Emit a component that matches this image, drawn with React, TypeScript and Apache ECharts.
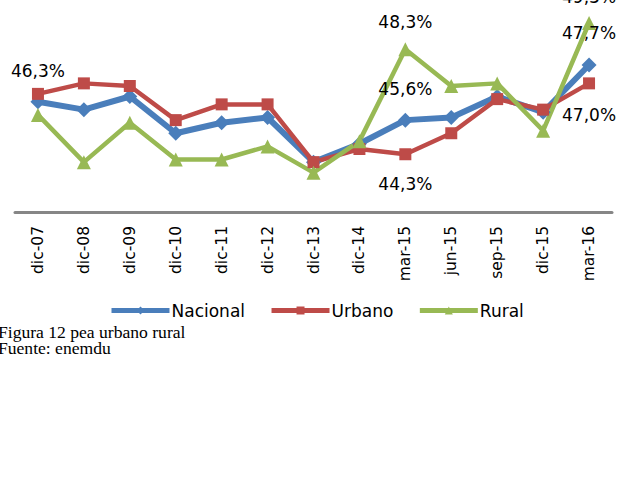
import React, { useEffect, useRef } from "react";
import * as echarts from "echarts";

const categories = ["dic-07", "dic-08", "dic-09", "dic-10", "dic-11", "dic-12", "dic-13", "dic-14", "mar-15", "jun-15", "sep-15", "dic-15", "mar-16"];
const nacional = [46.3, 46.0, 46.5, 45.1, 45.5, 45.7, 44.0, 44.7, 45.6, 45.7, 46.5, 45.9, 47.7];
const urbano = [46.6, 47.0, 46.9, 45.6, 46.2, 46.2, 44.0, 44.5, 44.3, 45.1, 46.4, 46.0, 47.0];
const rural = [45.8, 44.0, 45.5, 44.1, 44.1, 44.6, 43.6, 44.8, 48.3, 46.9, 47.0, 45.2, 49.3];
const seriesNames = ["Nacional", "Urbano", "Rural"];
const captionLines = ["Figura 12 pea urbano rural", "Fuente: enemdu"];

// points that carry a data label -> vertical label offset (px) from the point
const nacionalLabels: Record<number, number> = { 0: -31, 8: -31, 12: -32 };
const urbanoLabels: Record<number, number> = { 8: 30, 12: 32 };
const ruralLabels: Record<number, number> = { 8: -27, 12: -26 };

const fmt = (v: number) => v.toFixed(1).replace(".", ",") + "%";

const withLabels = (vals: number[], labels: Record<number, number>) =>
  vals.map((v, i) =>
    labels[i] !== undefined
      ? {
          value: v,
          label: {
            show: true,
            position: "inside",
            offset: [0, labels[i]],
            formatter: (p: any) => fmt(p.value),
            fontFamily: "DejaVu Sans",
            fontSize: 17,
            color: "#000",
            textBorderWidth: 0,
          },
        }
      : v
  );

export default function App() {
  const ref = useRef<HTMLDivElement>(null);
  useEffect(() => {
    if (!ref.current) return;
    const chart = echarts.init(ref.current, undefined, { renderer: "svg" });
    chart.setOption({
      animation: false,
      backgroundColor: "#fff",
      grid: { left: 15, right: 11, top: 2, height: 210 },
      xAxis: {
        type: "category",
        data: categories,
        boundaryGap: true,
        axisTick: { show: false },
        axisLine: { lineStyle: { color: "#868686", width: 3 } },
        axisLabel: {
          rotate: 90,
          margin: 14,
          interval: 0,
          fontSize: 15.5,
          fontFamily: "DejaVu Sans",
          color: "#000",
        },
      },
      yAxis: { type: "value", min: 42.1, max: 50.1, show: false },
      legend: {
        data: seriesNames,
        left: 109,
        top: 302,
        padding: 0,
        itemWidth: 58,
        itemHeight: 10,
        itemGap: 24,
        lineStyle: { width: 5 },
        textStyle: { fontSize: 17, fontFamily: "DejaVu Sans", color: "#000", padding: [0, 0, 0, -3] },
      },
      series: [
        {
          name: seriesNames[0],
          type: "line",
          data: withLabels(nacional, nacionalLabels),
          symbol: "diamond",
          symbolSize: 15,
          lineStyle: { color: "#4a7ebb", width: 6 },
          itemStyle: { color: "#4a7ebb" },
        },
        {
          name: seriesNames[1],
          type: "line",
          data: withLabels(urbano, urbanoLabels),
          symbol: "rect",
          symbolSize: 12,
          lineStyle: { color: "#be4b48", width: 4.5 },
          itemStyle: { color: "#be4b48" },
        },
        {
          name: seriesNames[2],
          type: "line",
          data: withLabels(rural, ruralLabels),
          symbol: "triangle",
          symbolSize: 14,
          lineStyle: { color: "#98b954", width: 4.5 },
          itemStyle: { color: "#98b954" },
        },
      ],
      graphic: captionLines.map((t, i) => ({
        type: "text",
        x: -2,
        y: 333 + i * 16,
        scaleX: 1.1,
        style: {
          text: t,
          fontFamily: "Liberation Serif",
          fontSize: 16,
          fill: "#000",
          verticalAlign: "middle",
        },
      })),
    });
    return () => chart.dispose();
  }, []);
  return (
    <div
      ref={ref}
      style={{ position: "fixed", left: 0, top: 0, width: 623, height: 495, background: "#fff" }}
    />
  );
}
